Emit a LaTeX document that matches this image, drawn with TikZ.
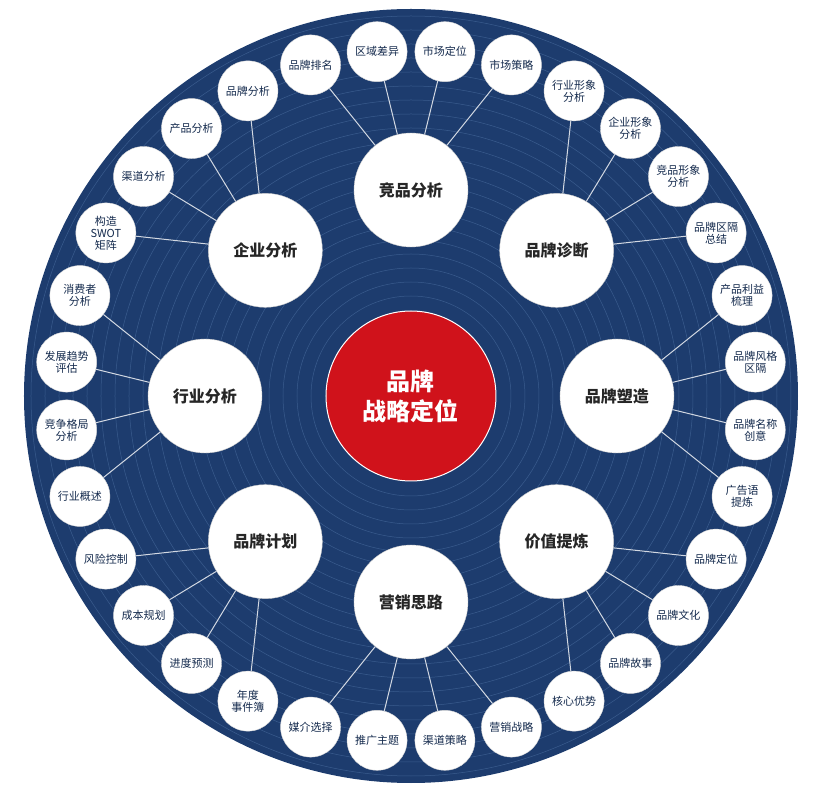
\documentclass[tikz,border=0pt]{standalone}
\usepackage{fontspec}
\setmainfont{Noto Sans CJK SC}
\usetikzlibrary{positioning}
\definecolor{navy}{HTML}{1D3C6E}
\definecolor{ring}{HTML}{3A5C8E}
\definecolor{hubred}{HTML}{D0121B}

\begin{document}
\begin{tikzpicture}[x=1pt,y=1pt,
        leaf/.style={circle, fill=white, draw=white!85!black, minimum size=60pt, inner sep=0pt, align=center, font=\fontsize{11}{12}\selectfont, text=navy!70!black},
        topic/.style={circle, fill=white, draw=white!80!black, minimum size=114pt, inner sep=0pt, font=\fontsize{16}{18}\selectfont\bfseries, text=black!85},
        link/.style={draw=white!80!navy, line width=1pt}
    ]
        \useasboundingbox (-411,-396) rectangle (420,396);
        % Background disc and rings
        \fill[navy] (0,0) circle (387);
        \foreach \r in {100,114,...,380}
            \draw[ring, line width=0.5pt] (0,0) circle (\r);

        % Hub
        \node[circle, fill=hubred, draw=white, line width=1pt, minimum size=170pt, align=center, text=white, font=\fontsize{24}{30}\selectfont\bfseries] (hub) at (0,0) {品牌\\战略定位};

        % Topics
        \foreach \lab [count=\k from 0] in {竞品分析,品牌诊断,品牌塑造,价值提炼,营销思路,品牌计划,行业分析,企业分析}
            \node[topic] (t\k) at ({90-45*\k}:206) {\lab};

        % Leaves
        \foreach \lab [count=\i from 0] in {市场定位,市场策略,{行业形象\\分析},{企业形象\\分析},{竞品形象\\分析},{品牌区隔\\总结},{产品利益\\梳理},{品牌风格\\区隔},{品牌名称\\创意},{广告语\\提炼},品牌定位,品牌文化,品牌故事,核心优势,营销战略,渠道策略,推广主题,媒介选择,{年度\\事件簿},进度预测,成本规划,风险控制,行业概述,{竞争格局\\分析},{发展趋势\\评估},{消费者\\分析},{构造\\SWOT\\矩阵},渠道分析,产品分析,品牌分析,品牌排名,区域差异}
            \node[leaf] (s\i) at ({84.375-11.25*\i}:346) {\lab};

        % Connections
        \foreach \k in {0,...,7}
            \foreach \j in {-2,-1,0,1} {
                \pgfmathtruncatemacro\n{mod(4*\k+\j+32,32)}
                \draw[link] (t\k) -- (s\n);
            }
    \end{tikzpicture}
\end{document}
